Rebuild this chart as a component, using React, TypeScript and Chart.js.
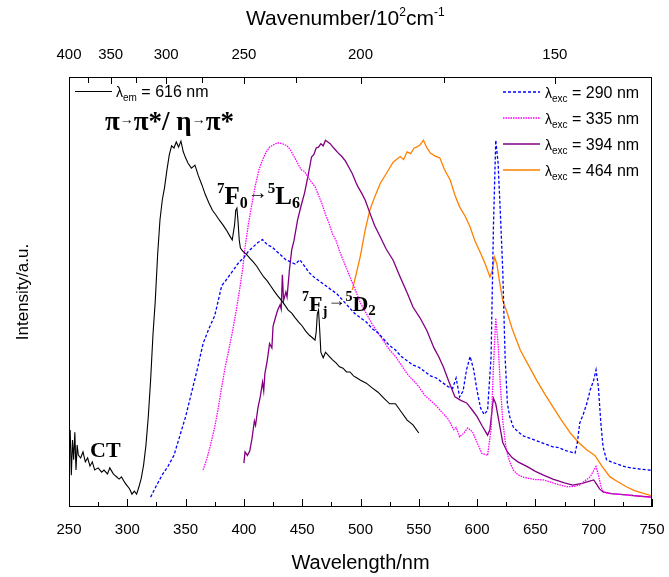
import React, { useEffect, useRef } from 'react';
import { Chart, registerables } from 'chart.js';

Chart.register(...registerables);

// ---------- DATA ----------
const blackX = [250,251,252,253,254,255,256,257,258,260,262,264,266,268,270,272,275,278,280,283,285,288,290,293,295,298,300,302,304,306,308,310,312,314,316,318,320,322,324,326,328,330,332,334,336,338,340,342,344,346,348,350,352,355,358,361,364,367,370,373,376,379,382,385,388,390,392,393,394,395,396,397,399,402,405,408,411,414,417,420,423,426,429,432,435,438,441,444,447,450,453,456,459,461,462,463,464,465,466,468,470,473,476,479,482,485,488,491,494,497,500,505,510,515,520,525,530,535,540,545,550];
const blackY = [13.3,17.9,7.4,15.6,11,17.4,8.6,14.4,12.1,11.4,12.8,10.5,11.4,9.5,10.5,8.6,9.1,8.1,8.6,7.7,9.1,7.7,7.2,6.5,7,5.6,4.9,4.2,3,3.7,3,4.7,6.7,9.8,14.4,21,29.5,40,48,58.6,66.7,71.4,74.4,78.4,81.9,84,83.5,84.9,83.7,85.1,82.6,81.2,80,78.8,79.5,77,74.9,72.6,70.7,69,67.9,66.7,65.6,64.4,63,62.1,65.6,69,69.5,66.3,62.1,60.2,59.5,58.8,57.9,57,56,54.7,53.5,52.6,51.4,50.2,49.1,48.1,47,45.8,45.1,44,43,42.1,40.9,40,39.3,38.8,40.7,45,45.8,41.2,36,34.7,36,35.1,34.2,33.5,32.6,32.3,31.4,31.4,30.5,30,29.5,28.8,27.7,26.7,25.3,24,24,22.1,20.2,19.1,17.2];

const blueX = [320,325,330,335,340,345,350,355,360,365,370,375,378,381,384,388,392,396,400,404,408,412,416,420,424,428,432,436,440,444,448,452,456,460,465,470,475,480,485,490,495,500,505,510,515,520,525,530,535,540,545,550,555,560,565,570,575,579,582,585,588,591,594,597,600,603,606,609,612,614,616,618,620,622,624,626,628,631,635,640,645,650,655,660,665,670,675,680,684,686,688,691,694,697,700,702,704,706,708,711,715,720,725,730,735,740,745,750];
const blueY = [2.3,5,7.5,9.5,12,16.5,21,26.5,32,38,41.5,44.5,48,51.5,52.5,54,55.5,57,58,59.5,60.5,61.5,62.2,61,60.5,59.5,58.5,57.5,57,56.5,57.5,56,54.5,53.5,52.5,51.5,50.5,49.5,48,46.5,45,44,43,41.5,40.5,39,37.5,36.5,35,34,33,32.5,31.5,30.5,30,29,28,27.6,30,25.6,27,32,35,32,27,23,21.5,22.5,35,65,85.3,80,68,55,35,24,21,18.6,17.5,16.5,16,15.5,15,14.5,14,13.8,13.2,12.8,12.5,15,19.5,21.5,24,27.2,29.5,31.9,28,20,14,11,10.5,10,9.5,9.2,9,8.8,8.7,8.5];

const magentaX = [365,368,371,375,378,381,384,387,390,393,396,399,401,404,407,410,413,416,419,422,425,429,433,437,440,443,446,449,452,455,458,461,464,467,470,473,476,479,482,485,488,491,494,497,500,505,510,515,520,525,530,535,540,545,550,555,560,565,570,575,580,582,585,588,592,596,600,604,609,612,614,616,618,620,622,625,628,631,635,640,645,650,657,665,670,677,683,688,692,697,700,702,704,706,708,712,720,728,740,750];
const magentaY = [8.6,11,14,18.6,23,28,32.6,36.5,40.5,45,50,55.5,60.5,66,70.7,75,78.5,80.7,82.5,83.7,84.2,84.7,84.5,84,83,81.5,80,78.5,78,76.7,75.5,74.5,72.5,70.5,68,66,63.5,62,59.5,57.5,55.5,53.5,51.5,49.5,47.4,45,42.5,40.5,38.5,36.5,35,33,31,29.5,28,26,24.8,23.5,22,20.5,18,18.5,16.3,17,18.4,17.5,15,12.5,12,18,32.6,43.9,38,28,20,13.3,10.5,8.6,7.5,6.9,6.6,6.4,6.3,5.6,5.2,4.7,4.8,5.1,6,7,8.5,9.4,7.5,5,3.5,3.2,3,2.8,2.5,2.2];

const purpleX = [400,401,403,405,407,409,410,412,414,416,417,418,420,422,424,425,427,429,431,432,433,434,436,437,439,441,443,446,449,452,455,458,460,462,464,466,468,470,472,474,476,478,481,484,487,490,493,496,498,501,504,508,512,517,522,528,534,540,545,551,557,563,567,571,576,581,586,591,596,600,604,609,611,613,614,616,619,622,626,630,635,643,650,657,665,675,682,690,695,700,702,705,708,715,728,740,750];
const purpleY = [10.2,12.8,12,13,16,20,19,23,25.6,29,27,31,34,38,37,42,44,45.8,47,46,54,48,50,48.8,55,59.8,62,66.7,70,73,77,81.4,82,83.5,83.7,84.5,84,85.3,84.9,84.5,83.8,83.2,82.3,81.5,80.5,79,77.5,75.5,74.4,73,71.4,68.4,65.5,62.8,60,57.4,53.5,49.8,46.5,44,41,37,35,32.6,29,25.6,24.8,24.2,22.5,21,19,16.7,18,23,25.3,24,19.5,15,12.8,11.5,10.5,9.4,8.3,7.4,6.5,5.6,5.1,5.5,5.9,6.3,5.5,4.2,3.5,3.1,2.8,2.5,2.3];

const orangeX = [493,494,497,500,504,508,512,517,522,528,534,537,540,543,546,548,551,554,557,560,564,568,572,577,581,585,590,594,598,603,607,611,613,615,617,619,622,626,630,637,644,651,658,665,672,680,687,694,701,707,714,721,728,735,742,750];
const orangeY = [50.5,51.6,55,58.5,64.4,69,72,75.3,77.5,80.2,81.5,80.8,82.6,82.2,83.5,83.7,84.2,85.3,83.5,82.3,81.6,81.2,78.5,76,72.5,69.8,67.5,65.1,62,59,56.5,53.5,55,58.1,56.5,52.8,48,45,41.5,36.5,33,29.5,26.3,23.3,20.3,17.2,15,13.3,12,9.5,7,5.8,4.7,3.8,3.2,2.6];

const bottomTicks = [250, 300, 350, 400, 450, 500, 550, 600, 650, 700, 750];
const topWavenumbers = [400, 375, 350, 325, 300, 275, 250, 225, 200, 175, 150];
const topLabelled = [400, 350, 300, 250, 200, 150];

const legendRight = ['290', '335', '394', '464'];

const SANS = '"Liberation Sans", Arial, sans-serif';
const SERIF = '"Liberation Serif", "Times New Roman", serif';

type Seg = { t: string; size: number; dy?: number; bold?: boolean; font?: string };

function drawRich(ctx: CanvasRenderingContext2D, segs: Seg[], x: number, y: number) {
  let cx = x;
  for (const s of segs) {
    ctx.font = `${s.bold ? 'bold ' : ''}${s.size}px ${s.font ?? SERIF}`;
    ctx.fillText(s.t, cx, y + (s.dy ?? 0));
    cx += ctx.measureText(s.t).width;
  }
}

const styles = [
  { color: '#000000', dash: [] as number[], width: 1.1 },
  { color: '#0000FF', dash: [3, 2], width: 1.3 },
  { color: '#FF00FF', dash: [1.5, 1], width: 1.3 },
  { color: '#800080', dash: [] as number[], width: 1.3 },
  { color: '#FF8000', dash: [] as number[], width: 1.3 },
];

const overlay = {
  id: 'overlay',
  afterDraw(chart: any) {
    const { ctx, chartArea: a, scales } = chart;
    const xs = scales.x;
    const xt = scales.x2;
    ctx.save();
    ctx.strokeStyle = '#000';
    ctx.lineWidth = 1;
    ctx.setLineDash([]);
    ctx.strokeRect(Math.round(a.left) + 0.5, Math.round(a.top) + 0.5, Math.round(a.right - a.left) - 1, Math.round(a.bottom - a.top) - 1);
    // bottom inward ticks
    for (let v = 250; v <= 750; v += 25) {
      const px = Math.round(xs.getPixelForValue(v)) + 0.5;
      const len = v % 50 === 0 ? 8 : 5;
      ctx.beginPath();
      ctx.moveTo(px, a.bottom);
      ctx.lineTo(px, a.bottom - len);
      ctx.stroke();
    }
    // top inward ticks
    for (const w of topWavenumbers) {
      const px = Math.round(xt.getPixelForValue(1e5 / w)) + 0.5;
      const len = topLabelled.includes(w) ? 7 : 6;
      ctx.beginPath();
      ctx.moveTo(px, a.top);
      ctx.lineTo(px, a.top + len);
      ctx.stroke();
    }
    ctx.fillStyle = '#000';
    ctx.textBaseline = 'alphabetic';
    ctx.textAlign = 'left';
    // top title
    drawRich(ctx, [
      { t: 'Wavenumber/10', size: 21, font: SANS },
      { t: '2', size: 12, dy: -9, font: SANS },
      { t: 'cm', size: 21, font: SANS },
      { t: '-1', size: 12, dy: -9, font: SANS },
    ], 246, 25);

    const drawSample = (x0: number, x1: number, y: number, st: any) => {
      ctx.save();
      ctx.strokeStyle = st.color;
      ctx.lineWidth = st.width;
      ctx.setLineDash(st.dash);
      ctx.beginPath();
      ctx.moveTo(x0, y);
      ctx.lineTo(x1, y);
      ctx.stroke();
      ctx.restore();
    };
    drawSample(75, 112, 91.5, styles[0]);
    drawRich(ctx, [
      { t: 'λ', size: 14, font: SANS },
      { t: 'em', size: 10, dy: 4, font: SANS },
      { t: ' = 616 nm', size: 16, font: SANS },
    ], 116, 97);
    legendRight.forEach((lab, i) => {
      const y = 92 + i * 26;
      drawSample(503, 540, y, styles[i + 1]);
      drawRich(ctx, [
        { t: 'λ', size: 14, font: SANS },
        { t: 'exc', size: 10, dy: 4, font: SANS },
        { t: ` = ${lab} nm`, size: 16, font: SANS },
      ], 545, y + 6);
    });

    // annotations
    drawRich(ctx, [
      { t: 'π', size: 27, bold: true },
      { t: '→', size: 14, dy: -6, font: SANS },
      { t: 'π', size: 27, bold: true },
      { t: '*/ ', size: 27, bold: true },
      { t: 'η', size: 27, bold: true },
      { t: '→', size: 14, dy: -6, font: SANS },
      { t: 'π', size: 27, bold: true },
      { t: '*', size: 27, bold: true },
    ], 105, 130);
    drawRich(ctx, [{ t: 'CT', size: 22, bold: true }], 90, 457);
    drawRich(ctx, [
      { t: '7', size: 15, dy: -11, bold: true },
      { t: 'F', size: 25, bold: true },
      { t: '0', size: 16, dy: 4, bold: true },
      { t: '→', size: 20, dy: -5, font: SANS },
      { t: '5', size: 15, dy: -11, bold: true },
      { t: 'L', size: 25, bold: true },
      { t: '6', size: 16, dy: 4, bold: true },
    ], 217, 204);
    drawRich(ctx, [
      { t: '7', size: 14, dy: -10, bold: true },
      { t: 'F', size: 22, bold: true },
      { t: 'j', size: 15, dy: 5, bold: true },
      { t: '→', size: 18, dy: -5, font: SANS },
      { t: '5', size: 14, dy: -10, bold: true },
      { t: 'D', size: 22, bold: true },
      { t: '2', size: 15, dy: 4, bold: true },
    ], 302, 311);
    ctx.restore();
  },
};

function mk(xArr: number[], yArr: number[], i: number, label: string) {
  const st = styles[i];
  return {
    label,
    data: xArr.map((x, k) => ({ x, y: yArr[k] })),
    borderColor: st.color,
    borderWidth: st.width,
    borderDash: st.dash,
    pointRadius: 0,
    fill: false,
    tension: 0,
  };
}

const noSidePad = (s: any) => { s.paddingLeft = 0; s.paddingRight = 0; };

export default function App() {
  const ref = useRef<HTMLCanvasElement>(null);
  useEffect(() => {
    if (!ref.current) return;
    const chart = new Chart(ref.current, {
      type: 'line',
      data: {
        datasets: [
          mk(blackX, blackY, 0, 'em 616'),
          mk(blueX, blueY, 1, 'exc 290'),
          mk(magentaX, magentaY, 2, 'exc 335'),
          mk(purpleX, purpleY, 3, 'exc 394'),
          mk(orangeX, orangeY, 4, 'exc 464'),
        ],
      },
      options: {
        responsive: false,
        animation: false,
        devicePixelRatio: 1,
        layout: { padding: { left: 0, top: 0, right: 17, bottom: 0 } },
        plugins: { legend: { display: false }, tooltip: { enabled: false } },
        scales: {
          x: {
            type: 'linear',
            position: 'bottom',
            min: 250,
            max: 750,
            afterBuildTicks: (s: any) => { s.ticks = bottomTicks.map((v) => ({ value: v })); },
            afterFit: (s: any) => { s.height = 70; noSidePad(s); },
            grid: { display: false, drawTicks: false },
            border: { display: false },
            ticks: { autoSkip: false, maxRotation: 0, padding: 14, color: '#000', font: { family: SANS, size: 15 } },
            title: { display: true, text: 'Wavelength/nm', color: '#000', font: { family: SANS, size: 20 }, padding: { top: 0, bottom: 2 } },
          },
          x2: {
            type: 'linear',
            position: 'top',
            min: 250,
            max: 750,
            afterBuildTicks: (s: any) => { s.ticks = topWavenumbers.map((w) => ({ value: 1e5 / w })); },
            afterFit: (s: any) => { s.height = 77; noSidePad(s); },
            grid: { display: false, drawTicks: false },
            border: { display: false },
            ticks: {
              autoSkip: false,
              maxRotation: 0,
              padding: 13,
              color: '#000',
              font: { family: SANS, size: 15 },
              callback: (v: any) => {
                const w = Math.round(1e5 / Number(v));
                return topLabelled.includes(w) ? String(w) : '';
              },
            },
          },
          y: {
            type: 'linear',
            position: 'left',
            min: 0,
            max: 100,
            afterFit: (s: any) => { s.width = 69; },
            grid: { display: false, drawTicks: false },
            border: { display: false },
            ticks: { display: false },
            title: { display: true, text: 'Intensity/a.u.', color: '#000', font: { family: SANS, size: 17 }, padding: { top: 13, bottom: 0 } },
          },
        },
      },
      plugins: [overlay],
    });
    return () => chart.destroy();
  }, []);
  return (
    <div style={{ position: 'fixed', left: 0, top: 0, width: 669, height: 577, background: '#fff' }}>
      <canvas ref={ref} width={669} height={577} style={{ display: 'block', width: 669, height: 577 }} />
    </div>
  );
}
